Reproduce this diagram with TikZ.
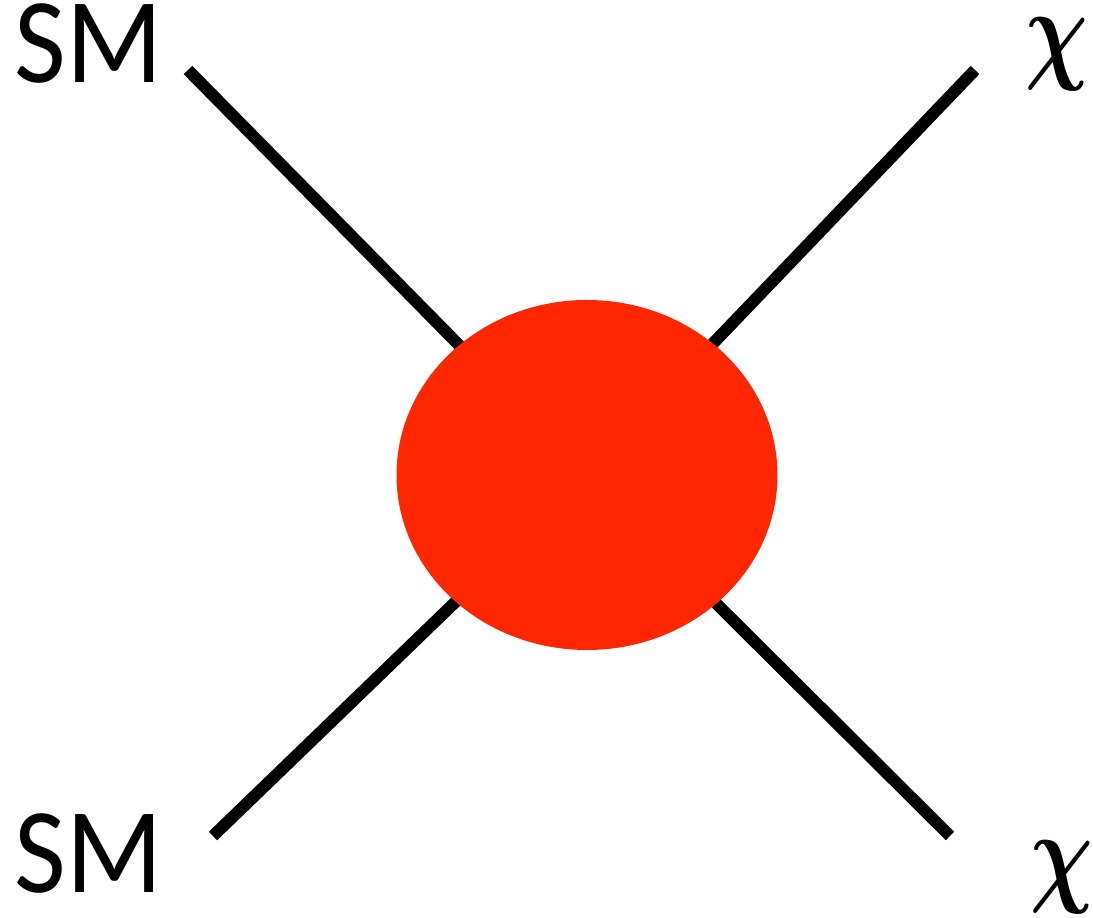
\documentclass[tikz,border=0pt]{standalone}
\usepackage{amsmath}
\usepackage{fontspec}
\setmainfont{Carlito}
\usetikzlibrary{positioning,shapes.geometric}
\definecolor{cBlob}{HTML}{FF2600}
\tikzset{
  leg/.style={line width=3.4pt,black},
  blob/.style={ellipse,fill=cBlob,inner sep=0pt,minimum width=3.81cm,minimum height=3.50cm},
  smlab/.style={inner sep=0pt,anchor=base west,yscale=1.08,transform shape,font=\fontsize{32}{32}\selectfont},
  chilab/.style={inner sep=0pt,yscale=1.3,transform shape,font=\fontsize{44}{44}\selectfont},
}
\begin{document}
\begin{tikzpicture}
  \useasboundingbox (0,0) rectangle (10.93,9.18);
  % external legs
  \coordinate (sm1) at (1.88,8.48);
  \coordinate (sm2) at (2.13,0.82);
  \coordinate (x1) at (9.75,8.48);
  \coordinate (x2) at (9.50,0.82);
  \coordinate (c) at (5.87,4.43);
  \draw[leg] (sm1) -- (c);
  \draw[leg] (sm2) -- (c);
  \draw[leg] (x1) -- (c);
  \draw[leg] (x2) -- (c);
  \node[blob] (vtx) at (c){};
  % labels
  \node[smlab] (lsm1) at (0.14,8.35){SM};
  \node[smlab] (lsm2) at (0.14,0.25){SM};
  \node[chilab] (lx1) at (10.57,8.64){$\boldsymbol{\chi}$};
  \node[chilab] (lx2) at (10.62,0.41){$\boldsymbol{\chi}$};
\end{tikzpicture}
\end{document}
